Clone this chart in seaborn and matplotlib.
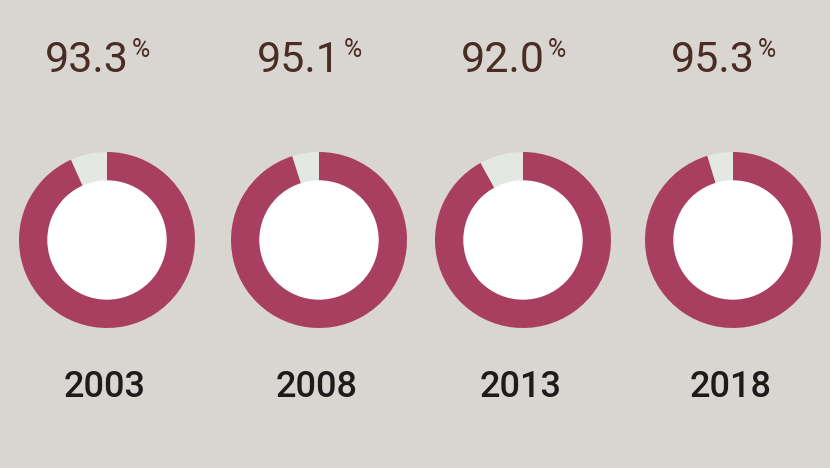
import matplotlib
matplotlib.use('Agg')
import matplotlib.pyplot as plt
import seaborn as sns

# valores
anos = ['2003', '2008', '2013', '2018']
percentuais = [93.3, 95.1, 92.0, 95.3]

# cores
cor_fundo = '#d9d5d0'
cor_principal = '#a83f61'
cor_resto = '#e3e8e5'
cor_texto_pct = '#4a2b26'
cor_texto_ano = '#1c1c1c'

sns.set_theme(style='white')
plt.rcParams['font.family'] = ['Roboto', 'DejaVu Sans']

fig = plt.figure(figsize=(8.3, 4.68), dpi=100)
fig.patch.set_facecolor(cor_fundo)
ax = fig.add_axes([0, 0, 1, 1])
ax.set_facecolor(cor_fundo)

centros_x = [107, 319, 523, 733]
centro_y = 468 - 240
raio = 88
largura = 29 / 88

for cx, ano, pct in zip(centros_x, anos, percentuais):
    ax.pie([pct, 100 - pct], colors=[cor_principal, cor_resto],
           startangle=90, counterclock=False, radius=raio,
           center=(cx, centro_y),
           wedgeprops=dict(width=raio * largura, edgecolor='none'))
    ax.add_patch(plt.Circle((cx, centro_y), raio - raio * largura,
                            color='white', zorder=3))
    # percentual
    ax.text(cx + 22, 468 - 72, f'{pct:.1f}', ha='right', va='baseline',
            fontsize=31, color=cor_texto_pct, fontweight='normal')
    ax.text(cx + 25, 468 - 57, '%', ha='left', va='baseline',
            fontsize=18, color=cor_texto_pct, fontweight='normal')
    # ano
    ax.text(cx - 2, 468 - 397, ano, ha='center', va='baseline',
            fontsize=26, color=cor_texto_ano, fontweight='medium')

ax.set_xlim(0, 830)
ax.set_ylim(0, 468)
ax.set_aspect('equal')
ax.axis('off')

fig.savefig('out.png', dpi=100, facecolor=cor_fundo)
